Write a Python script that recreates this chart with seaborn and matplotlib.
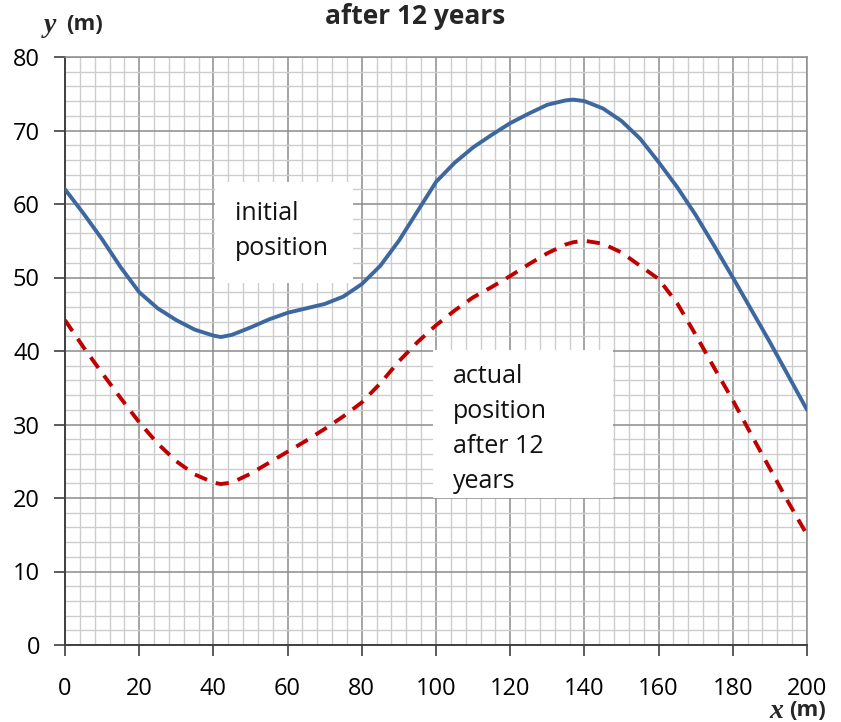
import matplotlib
matplotlib.use("Agg")
import matplotlib.pyplot as plt
import matplotlib.transforms as mtransforms
import seaborn as sns
import pandas as pd
from matplotlib.patches import Rectangle
from matplotlib.ticker import MultipleLocator

sns.set_theme(style="white")
plt.rcParams['font.family'] = ['Open Sans', 'DejaVu Sans']

# ---- data ----
x_vals = [0, 5, 10, 15, 20, 25, 30, 35, 40, 42, 45, 50, 55, 60, 65, 70, 75, 80, 85, 90, 95,
          100, 105, 110, 115, 120, 125, 130, 135, 137, 140, 145, 150, 155, 160, 165, 170,
          175, 180, 185, 190, 195, 200]
initial_y = [62.0, 58.7, 55.2, 51.4, 48.0, 45.8, 44.2, 42.9, 42.1, 41.9, 42.2, 43.2, 44.3, 45.2,
             45.8, 46.4, 47.4, 49.1, 51.6, 55.0, 59.0, 63.0, 65.6, 67.7, 69.4, 71.0, 72.3, 73.5,
             74.1, 74.2, 74.0, 73.0, 71.3, 68.9, 65.7, 62.3, 58.5, 54.3, 50.0, 45.6, 41.2, 36.6, 32.0]
actual_y = [44.2, 40.5, 37.0, 33.6, 30.3, 27.4, 25.0, 23.2, 22.1, 21.9, 22.1, 23.3, 24.8, 26.3,
            27.8, 29.4, 31.1, 33.0, 35.6, 38.6, 41.2, 43.5, 45.5, 47.3, 48.7, 50.2, 51.8, 53.3,
            54.5, 54.8, 55.0, 54.6, 53.4, 51.6, 49.8, 46.5, 42.2, 37.7, 33.3, 28.6, 24.0, 19.4, 15.0]

x_ticks = [0, 20, 40, 60, 80, 100, 120, 140, 160, 180, 200]
y_ticks = [0, 10, 20, 30, 40, 50, 60, 70, 80]
title = "after 12 years"
label_initial = ["initial", "position"]
label_actual = ["actual", "position", "after 12", "years"]

df = pd.DataFrame({"x": x_vals, "initial": initial_y, "actual": actual_y})

fig = plt.figure(figsize=(8.41, 7.22), dpi=100)
ax = fig.add_axes([65/841, 1-645/722, (807-65)/841, (645-57)/722])

ax.set_xlim(0, 200)
ax.set_ylim(0, 80)
ax.xaxis.set_major_locator(MultipleLocator(20))
ax.xaxis.set_minor_locator(MultipleLocator(4))
ax.yaxis.set_major_locator(MultipleLocator(10))
ax.yaxis.set_minor_locator(MultipleLocator(2))
ax.grid(which="minor", color="#cdcdcd", linewidth=1.0, zorder=0)
ax.grid(which="major", color="#8c8c8c", linewidth=1.1, zorder=0)
ax.set_axisbelow(True)

# text boxes (white backgrounds)
ax.add_patch(Rectangle((40.5, 49.2), 37.0, 13.8, facecolor="white", edgecolor="none", zorder=1.5))
ax.add_patch(Rectangle((99.2, 20.0), 48.5, 20.2, facecolor="white", edgecolor="none", zorder=1.5))

sns.lineplot(data=df, x="x", y="initial", ax=ax, color="#3d689f", linewidth=2.8, zorder=3)
sns.lineplot(data=df, x="x", y="actual", ax=ax, color="#c00000", linewidth=2.8, zorder=3,
             linestyle=(0, (3.4, 2.4)))

def put_lines(x0, y0, lines):
    for i, line in enumerate(lines):
        tr = ax.transData + mtransforms.ScaledTranslation(0, -i * 0.35, fig.dpi_scale_trans)
        ax.text(x0, y0, line, fontsize=18, va="baseline", ha="left", color="#111111",
                transform=tr, zorder=4)

put_lines(45.8, 57.8, label_initial)
put_lines(104.6, 35.6, label_actual)

ax.set_xticks(x_ticks)
ax.set_yticks(y_ticks)
ax.set_xticklabels([str(v) for v in x_ticks], fontsize=17)
ax.set_yticklabels([str(v) for v in y_ticks], fontsize=17)
ax.tick_params(axis="both", which="major", direction="out", length=8, width=1.2,
               color="#404040", labelcolor="black", bottom=True, left=True)
ax.tick_params(axis="x", which="major", pad=15)
ax.tick_params(axis="y", which="major", pad=10)
ax.tick_params(which="minor", length=0)
ax.set_xlabel("")
ax.set_ylabel("")

for side in ["left", "bottom"]:
    ax.spines[side].set_color("#404040")
    ax.spines[side].set_linewidth(1.4)
for side in ["top", "right"]:
    ax.spines[side].set_color("#8c8c8c")
    ax.spines[side].set_linewidth(1.1)

fig.text(415/841, 1-17/722, title, fontsize=19, fontweight="bold", ha="center", va="center")
fig.text(50/841, 1-25/722, "y", fontsize=20, fontstyle="italic", fontweight="bold",
         family=["Liberation Serif"], ha="center", va="center")
fig.text(66/841, 1-24/722, "(m)", fontsize=16, fontweight="bold", ha="left", va="center")
fig.text(776/841, 1-711/722, "x", fontsize=20, fontstyle="italic", fontweight="bold",
         family=["Liberation Serif"], ha="center", va="center")
fig.text(789/841, 1-710/722, "(m)", fontsize=16, fontweight="bold", ha="left", va="center")

fig.savefig("out.png", dpi=100)
